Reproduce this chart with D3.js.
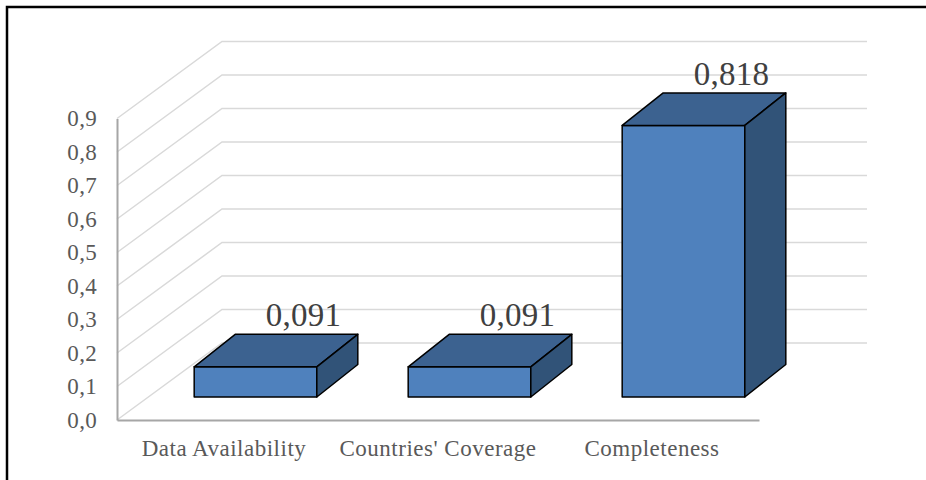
<!DOCTYPE html>
<html>
<head>
<meta charset="utf-8">
<script src="https://cdn.jsdelivr.net/npm/d3@7"></script>
<style>
  html, body { margin: 0; padding: 0; background: #fff; }
  svg { display: block; }
  text { font-family: "Liberation Serif", "Times New Roman", serif; }
</style>
</head>
<body>
<svg id="chart" width="926" height="480"></svg>
<script>
// Chart data
const categories = ["Data Availability", "Countries' Coverage", "Completeness"];
const values = [0.091, 0.091, 0.818];
const tickValues = [0, 0.1, 0.2, 0.3, 0.4, 0.5, 0.6, 0.7, 0.8, 0.9];

// Comma-decimal locale for all numbers shown
const locale = d3.formatLocale({ decimal: ",", thousands: ".", grouping: [3], currency: ["", " €"] });
const fmtTick = locale.format(".1f");
const fmtValue = locale.format(".3f");

const svg = d3.select("#chart");
const W = 926, H = 480;

// Plot geometry: front plane of the box and the oblique depth offset
const plotLeft = 117, plotRight = 759, plotBottom = 420, plotTop = 118.5;
const DEPTH_X = 105, DEPTH_Y = 77;          // wall/floor depth
const BAR_Z_X = 31.5, BAR_Z_Y = 23;         // bar front face offset into depth
const BAR_D_X = 41, BAR_D_Y = 32.5;         // bar thickness in depth

const x = d3.scaleBand().domain(categories).range([plotLeft, plotRight]).paddingInner(0).paddingOuter(0);
const y = d3.scaleLinear().domain([0, 0.9]).range([plotBottom, plotTop]);
// bars sit a little deeper in the box, so their vertical scale is slightly smaller
const yBar = d3.scaleLinear().domain([0, 0.9]).range([plotBottom - BAR_Z_Y, plotBottom - BAR_Z_Y - 0.9 * 332]);
const barW = x.bandwidth() * 0.573;

// Outer frame
svg.append("rect")
  .attr("x", 7).attr("y", 7).attr("width", W + 20).attr("height", H + 20)
  .attr("fill", "none").attr("stroke", "#000").attr("stroke-width", 2.5);

// Gridlines on side wall and back wall
const grid = svg.append("g").attr("fill", "none").attr("stroke", "#d9d9d9").attr("stroke-width", 1.5);
tickValues.forEach(t => {
  const yf = y(t);
  grid.append("path")
    .attr("d", `M${plotLeft},${yf}L${plotLeft + DEPTH_X},${yf - DEPTH_Y}L${plotRight + DEPTH_X + 3},${yf - DEPTH_Y}`);
});

// Value axis (left)
const yAxis = svg.append("g")
  .attr("transform", `translate(${plotLeft},0)`)
  .call(d3.axisLeft(y).tickValues(tickValues).tickFormat(fmtTick).tickSize(0).tickSizeOuter(0).tickPadding(20));
yAxis.select(".domain").attr("stroke", "#a6a6a6").attr("stroke-width", 2);
yAxis.selectAll("text")
  .attr("fill", "#595959").style("font-size", "23px")
  .style("letter-spacing", "0.3px")
  .style("font-family", '"Liberation Serif", "Times New Roman", serif');

// Category axis (bottom)
const xAxis = svg.append("g")
  .attr("transform", `translate(0,${plotBottom})`)
  .call(d3.axisBottom(x).tickSize(0).tickSizeOuter(0).tickPadding(20));
xAxis.select(".domain").attr("stroke", "#a6a6a6").attr("stroke-width", 2);
xAxis.selectAll("text")
  .attr("fill", "#595959").style("font-size", "23px")
  .style("letter-spacing", "0.5px")
  .style("font-family", '"Liberation Serif", "Times New Roman", serif');

// 3D bars
const bars = svg.append("g").attr("stroke", "#000").attr("stroke-width", 1.5).attr("stroke-linejoin", "round");
categories.forEach((c, i) => {
  const v = values[i];
  const cx = x(c) + x.bandwidth() / 2 + BAR_Z_X;
  const x0 = cx - barW / 2, x1 = cx + barW / 2;
  const yb = yBar(0), yt = yBar(v);
  const g = bars.append("g");
  // front face
  g.append("path").attr("fill", "#4f81bd")
    .attr("d", `M${x0},${yt}L${x1},${yt}L${x1},${yb}L${x0},${yb}Z`);
  // top face
  g.append("path").attr("fill", "#3c6290")
    .attr("d", `M${x0},${yt}L${x0 + BAR_D_X},${yt - BAR_D_Y}L${x1 + BAR_D_X},${yt - BAR_D_Y}L${x1},${yt}Z`);
  // side face
  g.append("path").attr("fill", "#315378")
    .attr("d", `M${x1},${yt}L${x1 + BAR_D_X},${yt - BAR_D_Y}L${x1 + BAR_D_X},${yb - BAR_D_Y}L${x1},${yb}Z`);
  // value label
  svg.append("text")
    .attr("x", cx + 48)
    .attr("y", yt - BAR_D_Y - 8)
    .attr("text-anchor", "middle")
    .attr("fill", "#404040")
    .style("font-size", "33px")
    .style("letter-spacing", "0.3px")
    .text(fmtValue(v));
});
</script>
</body>
</html>
